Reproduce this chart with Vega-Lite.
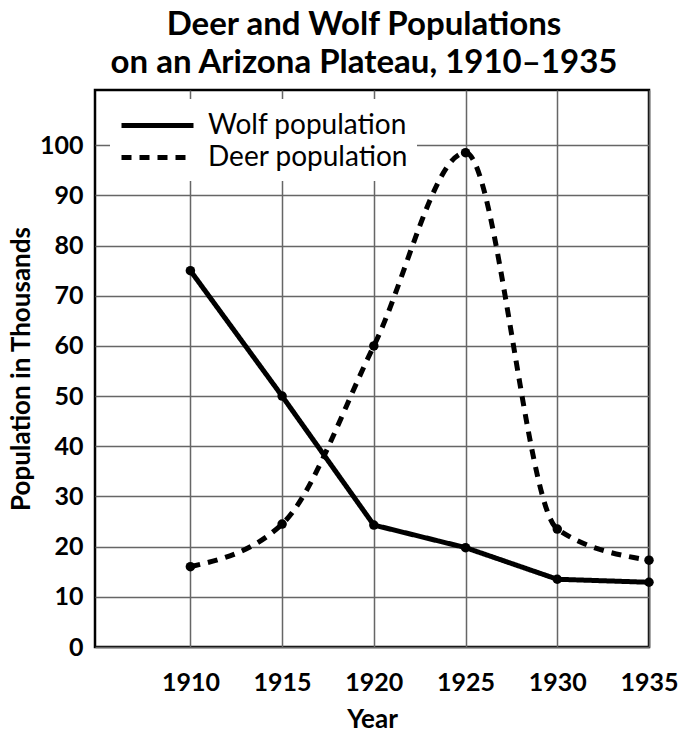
{
  "$schema": "https://vega.github.io/schema/vega-lite/v6.json",
  "autosize": "none",
  "padding": {"left": 95, "top": 90, "right": 31, "bottom": 85},
  "width": 554,
  "height": 557,
  "background": "white",
  "title": {
    "text": ["Deer and Wolf Populations", "on an Arizona Plateau, 1910–1935"],
    "font": "Lato",
    "fontSize": 33,
    "fontWeight": "bold",
    "lineHeight": 38,
    "anchor": "middle",
    "dx": -8,
    "offset": 10,
    "color": "black"
  },
  "config": {
    "view": {"stroke": "black", "strokeWidth": 2.5},
    "axis": {
      "labelFont": "Lato",
      "labelFontWeight": "bold",
      "labelFontSize": 25,
      "labelColor": "black",
      "titleFont": "Lato",
      "titleFontWeight": "bold",
      "titleFontSize": 26,
      "titleColor": "black",
      "ticks": false,
      "domain": false,
      "gridColor": "#666666",
      "gridWidth": 1.5,
      "gridOpacity": 1
    }
  },
  "data": {
    "values": [
      {"year": 1910, "pop": 75, "series": "Wolf population"},
      {"year": 1915, "pop": 50, "series": "Wolf population"},
      {"year": 1920, "pop": 24.3, "series": "Wolf population"},
      {"year": 1925, "pop": 19.8, "series": "Wolf population"},
      {"year": 1930, "pop": 13.5, "series": "Wolf population"},
      {"year": 1935, "pop": 12.9, "series": "Wolf population"},
      {"year": 1910, "pop": 16, "series": "Deer population"},
      {"year": 1915, "pop": 24.5, "series": "Deer population"},
      {"year": 1920, "pop": 60, "series": "Deer population"},
      {"year": 1925, "pop": 98.5, "series": "Deer population"},
      {"year": 1930, "pop": 23.5, "series": "Deer population"},
      {"year": 1935, "pop": 17.3, "series": "Deer population"}
    ]
  },
  "encoding": {
    "x": {
      "field": "year",
      "type": "quantitative",
      "scale": {"domain": [1904.8, 1935], "nice": false, "zero": false},
      "axis": {
        "values": [1910, 1915, 1920, 1925, 1930, 1935],
        "format": "d",
        "title": "Year",
        "labelPadding": 23,
        "labelFlush": false,
        "labelBound": false,
        "titlePadding": 11
      }
    },
    "y": {
      "field": "pop",
      "type": "quantitative",
      "scale": {"domain": [0, 111], "nice": false},
      "axis": {
        "values": [0, 10, 20, 30, 40, 50, 60, 70, 80, 90, 100],
        "title": "Population in Thousands",
        "labelPadding": 12,
        "titlePadding": 5
      }
    }
  },
  "layer": [
    {
      "transform": [{"filter": "datum.series === 'Wolf population'"}],
      "mark": {"type": "line", "color": "black", "strokeWidth": 5, "interpolate": "linear"},
      "encoding": {
        "strokeDash": {
          "field": "series",
          "type": "nominal",
          "scale": {"domain": ["Wolf population", "Deer population"], "range": [[1, 0], [10, 8]]},
          "legend": {
            "title": null,
            "orient": "none",
            "legendX": 15,
            "legendY": 9,
            "fillColor": "white",
            "padding": 9,
            "symbolType": "M-2.4,0H2.4",
            "symbolSize": 900,
            "symbolOffset": 21,
            "symbolStrokeWidth": 5,
            "symbolStrokeColor": "black",
            "symbolFillColor": "transparent",
            "labelFont": "Lato",
            "labelFontSize": 28,
            "labelFontWeight": "normal",
            "labelColor": "black",
            "labelOffset": 33,
            "rowPadding": -2,
            "labelLimit": 400
          }
        }
      }
    },
    {
      "transform": [{"filter": "datum.series === 'Deer population'"}],
      "mark": {"type": "line", "color": "black", "strokeWidth": 5, "interpolate": "monotone"},
      "encoding": {
        "strokeDash": {"field": "series", "type": "nominal"}
      }
    },
    {
      "mark": {"type": "point", "filled": true, "color": "black", "size": 90, "opacity": 1},
      "encoding": {
        "detail": {"field": "series", "type": "nominal"}
      }
    }
  ]
}
